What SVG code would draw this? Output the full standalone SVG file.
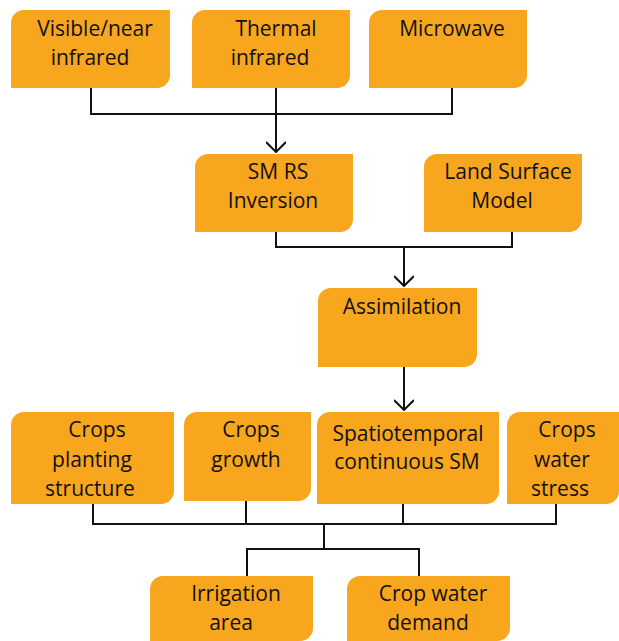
<svg xmlns="http://www.w3.org/2000/svg" width="619" height="641" viewBox="0 0 619 641">
  <style>
    .box { fill: #F7A61E; }
    .lbl { font-family: "Open Sans", "Liberation Sans", sans-serif; font-size: 21px; fill: #111; text-anchor: middle; }
    .wire { fill: none; stroke: #111; stroke-width: 2; }
  </style>
  <defs>
    <marker id="arrow" viewBox="0 0 20 12" refX="10" refY="11" markerWidth="20" markerHeight="12" markerUnits="userSpaceOnUse" orient="0">
      <path d="M0,1 L10,11 L20,1" fill="none" stroke="#111" stroke-width="2"/>
    </marker>
  </defs>
  <rect width="619" height="641" fill="#fff"/>

  <!-- connectors -->
  <g id="connectors" class="wire">
    <path d="M91,88 V114 H452 V88"/>
    <path d="M276,88 V152" marker-end="url(#arrow)"/>
    <path d="M276,232 V247 H512 V232"/>
    <path d="M404,247 V286" marker-end="url(#arrow)"/>
    <path d="M404,367 V410" marker-end="url(#arrow)"/>
    <path d="M93,504 V524 H556 V504"/>
    <path d="M246,501 V524"/>
    <path d="M403,504 V524"/>
    <path d="M324,524 V549"/>
    <path d="M247,576 V549 H419 V576"/>
  </g>

  <!-- box outline: rounded top-left and bottom-right corners -->
  <g id="n-visible">
    <path class="box" d="M24,10 H170 V75 A13,13 0 0 1 157,88 H11 V23 A13,13 0 0 1 24,10 Z"/>
    <text class="lbl" x="95" y="36">Visible/near</text>
    <text class="lbl" x="90" y="65">infrared</text>
  </g>
  <g id="n-thermal">
    <path class="box" d="M205,10 H350 V75 A13,13 0 0 1 337,88 H192 V23 A13,13 0 0 1 205,10 Z"/>
    <text class="lbl" x="276" y="36">Thermal</text>
    <text class="lbl" x="270" y="65">infrared</text>
  </g>
  <g id="n-microwave">
    <path class="box" d="M382,10 H527 V75 A13,13 0 0 1 514,88 H369 V23 A13,13 0 0 1 382,10 Z"/>
    <text class="lbl" x="452" y="36">Microwave</text>
  </g>
  <g id="n-inversion">
    <path class="box" d="M208,154 H353 V219 A13,13 0 0 1 340,232 H195 V167 A13,13 0 0 1 208,154 Z"/>
    <text class="lbl" x="278" y="179">SM RS</text>
    <text class="lbl" x="273" y="208">Inversion</text>
  </g>
  <g id="n-lsm">
    <path class="box" d="M437,154 H582 V219 A13,13 0 0 1 569,232 H424 V167 A13,13 0 0 1 437,154 Z"/>
    <text class="lbl" x="508" y="179">Land Surface</text>
    <text class="lbl" x="502" y="208">Model</text>
  </g>
  <g id="n-assimilation">
    <path class="box" d="M331,288 H477 V354 A13,13 0 0 1 464,367 H318 V301 A13,13 0 0 1 331,288 Z"/>
    <text class="lbl" x="402" y="314">Assimilation</text>
  </g>
  <g id="n-planting">
    <path class="box" d="M24,412 H174 V491 A13,13 0 0 1 161,504 H11 V425 A13,13 0 0 1 24,412 Z"/>
    <text class="lbl" x="97" y="437">Crops</text>
    <text class="lbl" x="92" y="467">planting</text>
    <text class="lbl" x="90" y="496">structure</text>
  </g>
  <g id="n-growth">
    <path class="box" d="M197,412 H311 V488 A13,13 0 0 1 298,501 H184 V425 A13,13 0 0 1 197,412 Z"/>
    <text class="lbl" x="251" y="437">Crops</text>
    <text class="lbl" x="246" y="467">growth</text>
  </g>
  <g id="n-sm">
    <path class="box" d="M330,412 H499 V491 A13,13 0 0 1 486,504 H317 V425 A13,13 0 0 1 330,412 Z"/>
    <text class="lbl" x="408" y="441">Spatiotemporal</text>
    <text class="lbl" x="407" y="469">continuous SM</text>
  </g>
  <g id="n-stress">
    <path class="box" d="M520,412 H619 V491 A13,13 0 0 1 606,504 H507 V425 A13,13 0 0 1 520,412 Z"/>
    <text class="lbl" x="567" y="437">Crops</text>
    <text class="lbl" x="562" y="467">water</text>
    <text class="lbl" x="560" y="496">stress</text>
  </g>
  <g id="n-irrigation">
    <path class="box" d="M163,576 H313 V628 A13,13 0 0 1 300,641 H150 V589 A13,13 0 0 1 163,576 Z"/>
    <text class="lbl" x="236" y="601">Irrigation</text>
    <text class="lbl" x="231" y="630">area</text>
  </g>
  <g id="n-demand">
    <path class="box" d="M360,576 H510 V628 A13,13 0 0 1 497,641 H347 V589 A13,13 0 0 1 360,576 Z"/>
    <text class="lbl" x="433" y="601">Crop water</text>
    <text class="lbl" x="428" y="630">demand</text>
  </g>
</svg>
